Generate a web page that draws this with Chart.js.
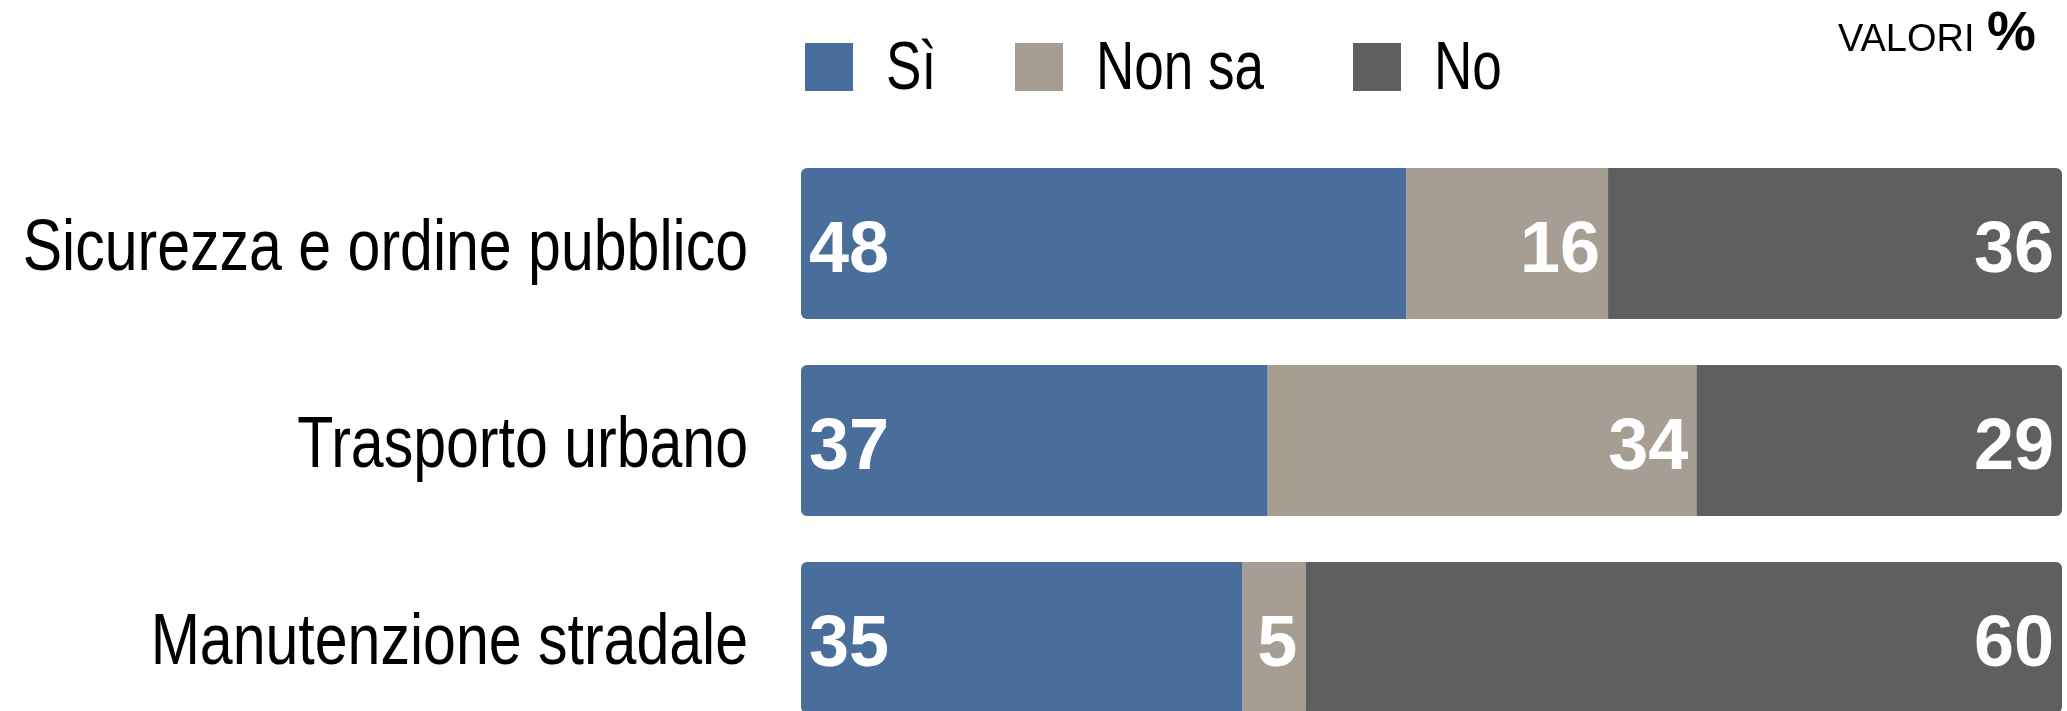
<!DOCTYPE html>
<html>
<head>
<meta charset="utf-8">
<title>Valori %</title>
<script src="https://cdn.jsdelivr.net/npm/chart.js@4.4.1/dist/chart.umd.min.js"></script>
<style>
  html, body { margin: 0; padding: 0; background: #fff; overflow: hidden; }
  #wrap { position: relative; width: 2067px; height: 711px; overflow: hidden; }
  #chart { position: absolute; left: 0; top: 0; }
  #legend { position: absolute; left: 0; top: 0; width: 2067px; height: 110px; }
  .legend-item { position: absolute; top: 0; height: 110px; }
  .swatch { position: absolute; left: 0; top: 43px; width: 48px; height: 48px; }
  .legend-text {
    position: absolute; left: 81px; top: 26px; white-space: nowrap; line-height: 1;
    font: 68px "Liberation Sans", Arial, sans-serif; color: #000;
    transform: scaleX(0.78); transform-origin: 0 0;
  }
  #unit { position: absolute; left: 1838px; top: 0; white-space: nowrap; color: #000; }
  #unit .lbl { position: absolute; left: 0; top: 19px; font: 38px "Liberation Sans", Arial, sans-serif; line-height: 1; }
  #unit .pct { position: absolute; left: 149px; top: 4px; font: bold 55px "Liberation Sans", Arial, sans-serif; line-height: 1; }
</style>
</head>
<body>
<div id="wrap">
  <canvas id="chart" width="2067" height="740"></canvas>
  <div id="legend"></div>
  <div id="unit"><span class="lbl">VALORI</span><span class="pct">%</span></div>
</div>
<script>
// Chart data
const categories = ['Sicurezza e ordine pubblico', 'Trasporto urbano', 'Manutenzione stradale'];
const seriesNames = ['Sì', 'Non sa', 'No'];
const siValues = [48, 37, 35];
const nonSaValues = [16, 34, 5];
const noValues = [36, 29, 60];
const seriesColors = ['#4a6e9c', '#a69d93', '#5f5f5f'];

// Layout constants
const legendLefts = [805, 1015, 1353];
const plotLeft = 801;
const labelGap = 53;
const narrow = 0.82; // condensed look for the category labels

// Category labels, drawn condensed at the y scale tick positions
const categoryLabels = {
  id: 'categoryLabels',
  afterDraw(chart) {
    const ctx = chart.ctx;
    const yScale = chart.scales.y;
    ctx.save();
    ctx.font = '72px "Liberation Sans", Arial, sans-serif';
    ctx.fillStyle = '#000';
    ctx.textAlign = 'right';
    ctx.textBaseline = 'alphabetic';
    yScale.ticks.forEach((tick, i) => {
      const y = yScale.getPixelForTick(i);
      const x = yScale.right - labelGap;
      ctx.save();
      ctx.translate(x, y + 26);
      ctx.scale(narrow, 1);
      ctx.fillText(chart.data.labels[i], 0, 0);
      ctx.restore();
    });
    ctx.restore();
  }
};

// White value labels inside each segment
const barLabels = {
  id: 'barLabels',
  afterDatasetsDraw(chart) {
    const ctx = chart.ctx;
    ctx.save();
    ctx.font = 'bold 72px "Liberation Sans", Arial, sans-serif';
    ctx.fillStyle = '#ffffff';
    ctx.textBaseline = 'alphabetic';
    chart.data.datasets.forEach((ds, di) => {
      const meta = chart.getDatasetMeta(di);
      meta.data.forEach((bar, i) => {
        const v = ds.data[i];
        const left = Math.min(bar.x, bar.base);
        const right = Math.max(bar.x, bar.base);
        if (di === 0) {
          ctx.textAlign = 'left';
          ctx.fillText(String(v), left + 8, bar.y + 28);
        } else {
          ctx.textAlign = 'right';
          ctx.fillText(String(v), right - 8, bar.y + 28);
        }
      });
    });
    ctx.restore();
  }
};

const allValues = [siValues, nonSaValues, noValues];
const radii = [
  { topLeft: 6, bottomLeft: 6, topRight: 0, bottomRight: 0 },
  0,
  { topLeft: 0, bottomLeft: 0, topRight: 6, bottomRight: 6 }
];

const datasets = seriesNames.map((name, i) => ({
  label: name,
  data: allValues[i],
  backgroundColor: seriesColors[i],
  borderWidth: 0,
  borderRadius: radii[i],
  borderSkipped: false,
  barPercentage: 0.766,
  categoryPercentage: 1
}));

new Chart(document.getElementById('chart'), {
  type: 'bar',
  data: { labels: categories, datasets },
  options: {
    indexAxis: 'y',
    responsive: false,
    animation: false,
    layout: { padding: { top: 145, bottom: 4, left: 0, right: 5 } },
    plugins: {
      legend: { display: false },
      tooltip: { enabled: false }
    },
    scales: {
      x: {
        stacked: true,
        min: 0,
        max: 100,
        display: false
      },
      y: {
        stacked: true,
        grid: { display: false, drawTicks: false },
        border: { display: false },
        ticks: { display: false },
        afterFit(scale) { scale.width = plotLeft; }
      }
    }
  },
  plugins: [barLabels, categoryLabels]
});

// Legend built from the series arrays
const legendEl = document.getElementById('legend');
seriesNames.forEach((name, i) => {
  const item = document.createElement('div');
  item.className = 'legend-item';
  item.style.left = legendLefts[i] + 'px';
  const sw = document.createElement('div');
  sw.className = 'swatch';
  sw.style.background = seriesColors[i];
  const tx = document.createElement('div');
  tx.className = 'legend-text';
  tx.textContent = name;
  item.appendChild(sw);
  item.appendChild(tx);
  legendEl.appendChild(item);
});
</script>
</body>
</html>
